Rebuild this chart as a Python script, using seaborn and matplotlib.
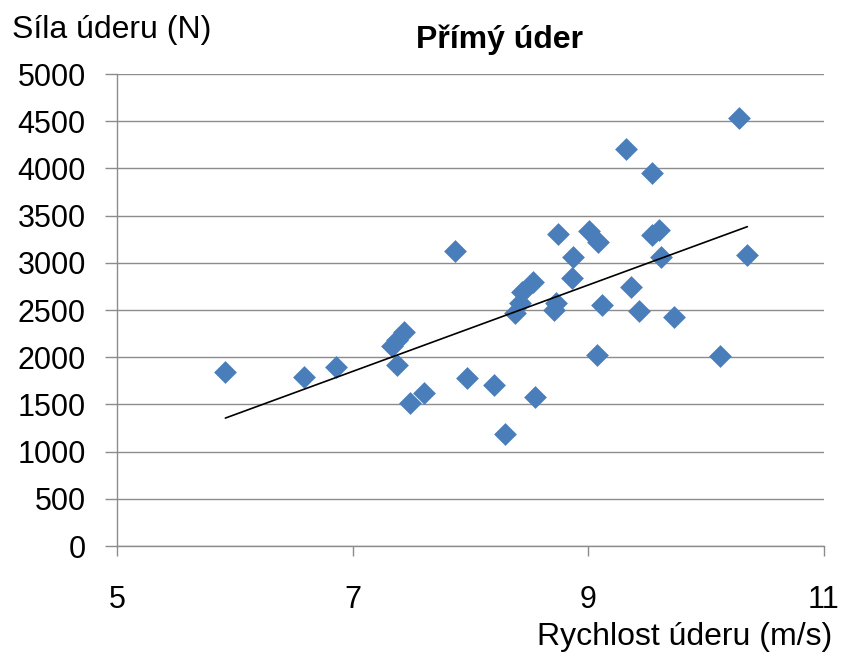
import matplotlib
matplotlib.use("Agg")
import matplotlib.pyplot as plt
import seaborn as sns
import pandas as pd

# Punch speed (m/s) and punch force (N) for the straight punch
rychlost = [5.92, 6.59, 6.86, 7.33, 7.38, 7.44, 7.38, 7.49, 7.61, 7.87,
            7.97, 8.20, 8.29, 8.38, 8.42, 8.44, 8.53, 8.55, 8.71, 8.73,
            8.74, 8.86, 8.87, 9.01, 9.08, 9.07, 9.12, 9.32, 9.36, 9.43,
            9.54, 9.54, 9.60, 9.62, 9.73, 10.12, 10.28, 10.35]
sila = [1840, 1790, 1900, 2120, 2180, 2270, 1920, 1510, 1620, 3130,
        1780, 1710, 1190, 2470, 2570, 2690, 2800, 1580, 2500, 2570,
        3310, 2840, 3060, 3340, 3220, 2020, 2550, 4210, 2740, 2490,
        3290, 3950, 3350, 3060, 2430, 2010, 4530, 3080]

x_ticks = [5, 7, 9, 11]
y_ticks = list(range(0, 5001, 500))

df = pd.DataFrame({"rychlost": rychlost, "sila": sila})

sns.set_theme(style="white")
plt.rcParams["font.family"] = ["Liberation Sans", "DejaVu Sans"]
plt.rcParams["text.color"] = "black"
plt.rcParams["xtick.labelcolor"] = "black"
plt.rcParams["ytick.labelcolor"] = "black"

fig = plt.figure(figsize=(8.44, 6.55), dpi=100)
ax = fig.add_axes([0.1386, 0.1664, 0.8376, 0.7206])

sns.regplot(data=df, x="rychlost", y="sila", ax=ax, ci=None, marker="D",
            scatter_kws=dict(s=135, color="#4a7ebb", linewidths=0, alpha=1, zorder=3),
            line_kws=dict(color="black", linewidth=1.2, zorder=4))

ax.set_xlim(5, 11)
ax.set_ylim(0, 5000)
ax.set_xticks(x_ticks)
ax.set_yticks(y_ticks)
ax.set_xticklabels([str(t) for t in x_ticks])
ax.set_yticklabels([str(t) for t in y_ticks])
ax.yaxis.grid(True, color="#8c8c8c", linewidth=1.0)
ax.set_axisbelow(True)
ax.set_xlabel("")
ax.set_ylabel("")

for side in ("top", "right"):
    ax.spines[side].set_visible(False)
for side in ("left", "bottom"):
    ax.spines[side].set_color("#8c8c8c")
    ax.spines[side].set_linewidth(1.0)

ax.tick_params(axis="y", direction="out", length=8.5, width=1.0, color="#8c8c8c",
               labelsize=22, labelcolor="black", pad=14, left=True)
ax.tick_params(axis="x", direction="out", length=7, width=1.0, color="#8c8c8c",
               labelsize=22, labelcolor="black", pad=21, bottom=True)

fig.text(500 / 844, 1 - 40 / 655, "Přímý úder", ha="center", va="center",
         fontsize=23, fontweight="bold", color="black")
fig.text(12 / 844, 1 - 30 / 655, "Síla úderu (N)", ha="left", va="center",
         fontsize=23, color="black")
fig.text(832 / 844, 1 - 637 / 655, "Rychlost úderu (m/s)", ha="right", va="center",
         fontsize=23, color="black")

fig.savefig("out.png", dpi=100, facecolor="white")
